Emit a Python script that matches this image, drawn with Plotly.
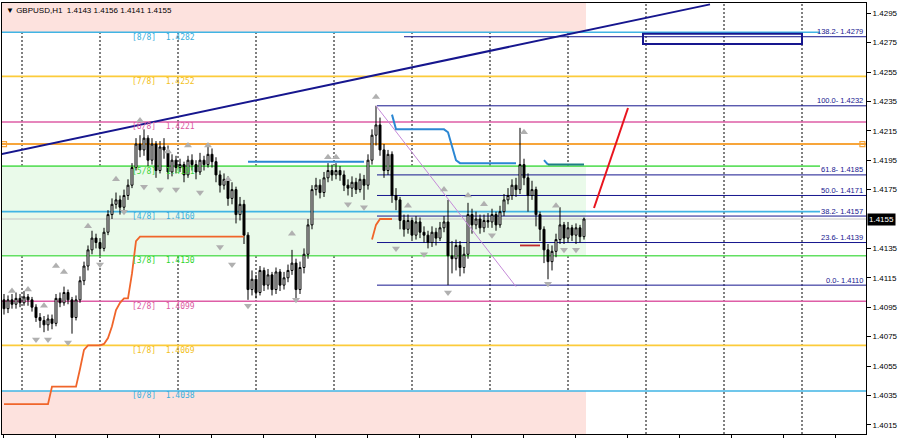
import plotly.graph_objects as go

# ---------------- data ----------------
opens = [1.4100, 1.4094, 1.4100, 1.4097, 1.4101, 1.4098, 1.4102, 1.4100, 1.4095, 1.4088,
         1.4086, 1.4083, 1.4087, 1.4084, 1.4101, 1.4098, 1.4105, 1.4100, 1.4088, 1.4100,
         1.4113, 1.4123, 1.4134, 1.4142, 1.4139, 1.4135, 1.4146, 1.4158, 1.4165, 1.4168,
         1.4163, 1.4171, 1.4178, 1.4190, 1.4206, 1.4202, 1.4210, 1.4195, 1.4206, 1.4188,
         1.4204, 1.4202, 1.4187, 1.4195, 1.4190, 1.4192, 1.4185, 1.4195, 1.4192, 1.4187,
         1.4195, 1.4192, 1.4199, 1.4194, 1.4185, 1.4178, 1.4182, 1.4169, 1.4175, 1.4158,
         1.4165, 1.4144, 1.4107, 1.4114, 1.4105, 1.4120, 1.4110, 1.4117, 1.4107, 1.4119,
         1.4110, 1.4115, 1.4120, 1.4125, 1.4107, 1.4122, 1.4131, 1.4151, 1.4175, 1.4178,
         1.4173, 1.4183, 1.4188, 1.4185, 1.4188, 1.4185, 1.4178, 1.4176, 1.4180, 1.4175,
         1.4182, 1.4178, 1.4195, 1.4212, 1.4219, 1.4202, 1.4188, 1.4199, 1.4171, 1.4168,
         1.4154, 1.4148, 1.4154, 1.4144, 1.4153, 1.4146, 1.4144, 1.4139, 1.4146, 1.4142,
         1.4149, 1.4153, 1.4130, 1.4128, 1.4137, 1.4122, 1.4131, 1.4158, 1.4151, 1.4155,
         1.4149, 1.4154, 1.4153, 1.4158, 1.4151, 1.4160, 1.4168, 1.4171, 1.4178, 1.4175,
         1.4192, 1.4183, 1.4171, 1.4175, 1.4158, 1.4148, 1.4134, 1.4126, 1.4133, 1.4141,
         1.4151, 1.4142, 1.4149, 1.4144, 1.4149, 1.4143]
highs = [1.4104, 1.4103, 1.4104, 1.4105, 1.4104, 1.4106, 1.4104, 1.4102, 1.4097, 1.4091,
         1.4089, 1.4090, 1.4090, 1.4104, 1.4105, 1.4109, 1.4107, 1.4102, 1.4103, 1.4116,
         1.4126, 1.4137, 1.4147, 1.4145, 1.4142, 1.4149, 1.4161, 1.4169, 1.4173, 1.4171,
         1.4175, 1.4182, 1.4193, 1.4210, 1.4212, 1.4216, 1.4212, 1.4210, 1.4208, 1.4208,
         1.4210, 1.4205, 1.4199, 1.4198, 1.4196, 1.4194, 1.4198, 1.4199, 1.4195, 1.4200,
         1.4198, 1.4204, 1.4203, 1.4197, 1.4188, 1.4186, 1.4184, 1.4180, 1.4177, 1.4170,
         1.4168, 1.4146, 1.4120, 1.4117, 1.4123, 1.4122, 1.4121, 1.4119, 1.4122, 1.4121,
         1.4119, 1.4124, 1.4134, 1.4128, 1.4126, 1.4135, 1.4155, 1.4178, 1.4183, 1.4182,
         1.4187, 1.4193, 1.4192, 1.4193, 1.4191, 1.4188, 1.4182, 1.4184, 1.4183, 1.4186,
         1.4185, 1.4199, 1.4216, 1.4232, 1.4224, 1.4206, 1.4202, 1.4201, 1.4176, 1.4170,
         1.4158, 1.4158, 1.4156, 1.4157, 1.4156, 1.4150, 1.4147, 1.4150, 1.4149, 1.4153,
         1.4157, 1.4168, 1.4140, 1.4141, 1.4140, 1.4136, 1.4166, 1.4162, 1.4160, 1.4158,
         1.4158, 1.4159, 1.4162, 1.4160, 1.4164, 1.4172, 1.4176, 1.4182, 1.4183, 1.4217,
         1.4196, 1.4186, 1.4181, 1.4177, 1.4160, 1.4150, 1.4138, 1.4137, 1.4145, 1.4163,
         1.4153, 1.4153, 1.4151, 1.4152, 1.4151, 1.4156]
lows = [1.4090, 1.4091, 1.4094, 1.4094, 1.4095, 1.4096, 1.4096, 1.4092, 1.4085, 1.4081,
        1.4078, 1.4079, 1.4080, 1.4082, 1.4095, 1.4096, 1.4097, 1.4077, 1.4086, 1.4098,
        1.4110, 1.4120, 1.4131, 1.4135, 1.4130, 1.4133, 1.4144, 1.4155, 1.4162, 1.4158,
        1.4160, 1.4168, 1.4176, 1.4188, 1.4197, 1.4198, 1.4191, 1.4192, 1.4183, 1.4186,
        1.4196, 1.4182, 1.4184, 1.4186, 1.4187, 1.4180, 1.4183, 1.4188, 1.4182, 1.4185,
        1.4188, 1.4190, 1.4190, 1.4180, 1.4173, 1.4175, 1.4164, 1.4165, 1.4152, 1.4154,
        1.4138, 1.4100, 1.4103, 1.4101, 1.4103, 1.4106, 1.4107, 1.4103, 1.4104, 1.4106,
        1.4107, 1.4112, 1.4117, 1.4101, 1.4104, 1.4118, 1.4128, 1.4148, 1.4171, 1.4169,
        1.4170, 1.4180, 1.4181, 1.4182, 1.4181, 1.4174, 1.4171, 1.4170, 1.4172, 1.4173,
        1.4168, 1.4175, 1.4192, 1.4205, 1.4198, 1.4183, 1.4185, 1.4166, 1.4161, 1.4148,
        1.4143, 1.4145, 1.4140, 1.4141, 1.4142, 1.4139, 1.4135, 1.4136, 1.4137, 1.4140,
        1.4146, 1.4110, 1.4118, 1.4120, 1.4116, 1.4118, 1.4128, 1.4145, 1.4148, 1.4145,
        1.4146, 1.4149, 1.4149, 1.4147, 1.4149, 1.4157, 1.4165, 1.4168, 1.4170, 1.4172,
        1.4178, 1.4160, 1.4168, 1.4150, 1.4140, 1.4125, 1.4114, 1.4120, 1.4129, 1.4138,
        1.4138, 1.4139, 1.4140, 1.4138, 1.4139, 1.4141]
closes = [1.4094, 1.4100, 1.4097, 1.4101, 1.4098, 1.4102, 1.4100, 1.4095, 1.4088, 1.4086,
          1.4083, 1.4087, 1.4084, 1.4101, 1.4098, 1.4105, 1.4100, 1.4088, 1.4100, 1.4113,
          1.4123, 1.4134, 1.4142, 1.4139, 1.4135, 1.4146, 1.4158, 1.4165, 1.4168, 1.4163,
          1.4171, 1.4178, 1.4190, 1.4206, 1.4202, 1.4210, 1.4195, 1.4206, 1.4188, 1.4204,
          1.4202, 1.4187, 1.4195, 1.4190, 1.4192, 1.4185, 1.4195, 1.4192, 1.4187, 1.4195,
          1.4192, 1.4199, 1.4194, 1.4185, 1.4178, 1.4182, 1.4169, 1.4175, 1.4158, 1.4165,
          1.4144, 1.4107, 1.4114, 1.4105, 1.4120, 1.4110, 1.4117, 1.4107, 1.4119, 1.4110,
          1.4115, 1.4120, 1.4125, 1.4107, 1.4122, 1.4131, 1.4151, 1.4175, 1.4178, 1.4173,
          1.4183, 1.4188, 1.4185, 1.4188, 1.4185, 1.4178, 1.4176, 1.4180, 1.4175, 1.4182,
          1.4178, 1.4195, 1.4212, 1.4219, 1.4202, 1.4188, 1.4199, 1.4171, 1.4168, 1.4154,
          1.4148, 1.4154, 1.4144, 1.4153, 1.4146, 1.4144, 1.4139, 1.4146, 1.4142, 1.4149,
          1.4153, 1.4130, 1.4128, 1.4137, 1.4122, 1.4131, 1.4158, 1.4151, 1.4155, 1.4149,
          1.4154, 1.4153, 1.4158, 1.4151, 1.4160, 1.4168, 1.4171, 1.4178, 1.4175, 1.4192,
          1.4183, 1.4171, 1.4175, 1.4158, 1.4148, 1.4134, 1.4126, 1.4133, 1.4141, 1.4151,
          1.4142, 1.4149, 1.4144, 1.4149, 1.4143, 1.4155]

# Murrey math levels
murrey_labels = ["[0/8]", "[1/8]", "[2/8]", "[3/8]", "[4/8]", "[5/8]", "[6/8]", "[7/8]", "[8/8]"]
murrey_prices = [1.4038, 1.4069, 1.4099, 1.4130, 1.4160, 1.4191, 1.4221, 1.4252, 1.4282]
pivot_price = 1.4206
last_price = 1.4155

# Fibonacci retracement
fib_levels = [0.0, 23.6, 38.2, 50.0, 61.8, 100.0, 138.2]
fib_prices = [1.4110, 1.4139, 1.4157, 1.4171, 1.4185, 1.4232, 1.4279]

# trailing-stop style indicator (orange), per bar
trail1_bars = list(range(0, 61))
trail1_vals = [1.4029, 1.4029, 1.4029, 1.4029, 1.4029, 1.4029, 1.4029, 1.4029, 1.4029, 1.4029,
               1.4029, 1.4029, 1.4041, 1.4041, 1.4041, 1.4041, 1.4041, 1.4041, 1.4041, 1.4053,
               1.4066, 1.4069, 1.4069, 1.4069, 1.4069, 1.4070, 1.4074, 1.4082, 1.4093, 1.4098,
               1.4101, 1.4101, 1.4118, 1.4140, 1.4143, 1.4143, 1.4143, 1.4143, 1.4143, 1.4143,
               1.4143, 1.4143, 1.4143, 1.4143, 1.4143, 1.4143, 1.4143, 1.4143, 1.4143, 1.4143,
               1.4143, 1.4143, 1.4143, 1.4143, 1.4143, 1.4143, 1.4143, 1.4143, 1.4143, 1.4143,
               1.4143]
trail2_bars = [92, 93, 94, 95, 96, 97]
trail2_vals = [1.4141, 1.4151, 1.4155, 1.4155, 1.4155, 1.4155]
trail3_bars = [129, 130, 131, 132, 133, 134]
trail3_vals = [1.4137, 1.4137, 1.4137, 1.4137, 1.4137, 1.4137]

# blue indicator line, per bar
blue1_bars = list(range(61, 91))
blue1_vals = [1.4194, 1.4194, 1.4194, 1.4194, 1.4194, 1.4194, 1.4194, 1.4194, 1.4194, 1.4194,
              1.4194, 1.4194, 1.4194, 1.4194, 1.4194, 1.4194, 1.4194, 1.4194, 1.4194, 1.4194,
              1.4194, 1.4194, 1.4194, 1.4194, 1.4194, 1.4194, 1.4194, 1.4194, 1.4194, 1.4194]
blue2_bars = list(range(97, 129))
blue2_vals = [1.4226, 1.4216, 1.4216, 1.4216, 1.4216, 1.4216, 1.4216, 1.4216, 1.4216, 1.4216,
              1.4216, 1.4216, 1.4216, 1.4216, 1.4214, 1.4205, 1.4195, 1.4193, 1.4193, 1.4193,
              1.4193, 1.4193, 1.4193, 1.4193, 1.4193, 1.4193, 1.4193, 1.4193, 1.4193, 1.4193,
              1.4193, 1.4193]
blue3_bars = [135, 136]
blue3_vals = [1.4195, 1.4192]
teal_bars = [136, 137, 138, 139, 140, 141, 142, 143, 144, 145]
teal_vals = [1.4192, 1.4192, 1.4192, 1.4192, 1.4192, 1.4192, 1.4192, 1.4192, 1.4192, 1.4192]

# fractals
frac_up_bars = [2, 6, 10, 13, 15, 21, 28, 34, 41, 46, 51, 56, 72, 81, 83, 93, 101, 110, 116, 120, 130, 138]
frac_up_prices = [1.4106, 1.4107, 1.4096, 1.4123, 1.4119, 1.4150, 1.4182, 1.4222, 1.4201, 1.4205, 1.4205,
                  1.4182, 1.4145, 1.4197, 1.4197, 1.4238, 1.4164, 1.4175, 1.4171, 1.4165, 1.4214, 1.4164]
frac_dn_bars = [8, 11, 16, 24, 30, 35, 39, 43, 49, 54, 57, 61, 73, 86, 90, 98, 105, 111, 122, 136, 140, 143]
frac_dn_prices = [1.4073, 1.4073, 1.4071, 1.4124, 1.4160, 1.4177, 1.4175, 1.4175, 1.4173, 1.4136, 1.4124,
                  1.4096, 1.4100, 1.4165, 1.4163, 1.4135, 1.4131, 1.4105, 1.4144, 1.4111, 1.4134, 1.4134]

# hand-drawn objects (bar index, price)
trend_bars = [-1.0, 176.5]
trend_prices = [1.4199, 1.4301]
red_bars = [147.5, 156.0]
red_prices = [1.41625, 1.42305]
purple_bars = [93.0, 128.0]
purple_prices = [1.4232, 1.4109]
box_bars = [159.75, 199.5]
box_prices = [1.4274, 1.4281]

title_text = "▼ GBPUSD,H1  1.4143 1.4156 1.4141 1.4155"

# ---------------- styling / layout ----------------
X_L, X_R = -0.5, 215.5
Y_BOT, Y_TOP = 1.400874, 1.430194
ZONE_END = 145.5
LINE_END_SHORT = 204.0

CYAN = "#41b4e4"
GOLD = "#fccb3a"
MAG = "#de5ea6"
ORANGE = "#f7a53a"
GREEN = "#62e062"
NAVY = "#16168e"
murrey_colors = [CYAN, GOLD, MAG, GREEN, CYAN, GREEN, MAG, GOLD, CYAN]
murrey_text_colors = ["#3aaedc", "#f2c020", "#dc5aa2", "#2ed42e", "#3aaedc", "#3cd43c", "#dc5aa2", "#f2c020", "#3aaedc"]

fig = go.Figure()

shapes = []
# background zones
shapes.append(dict(type="rect", xref="x", yref="y", x0=X_L, x1=ZONE_END, y0=murrey_prices[8], y1=Y_TOP,
                   fillcolor="#fde2de", line=dict(width=0), layer="below"))
shapes.append(dict(type="rect", xref="x", yref="y", x0=X_L, x1=ZONE_END, y0=Y_BOT, y1=murrey_prices[0],
                   fillcolor="#fde2de", line=dict(width=0), layer="below"))
shapes.append(dict(type="rect", xref="x", yref="y", x0=X_L, x1=ZONE_END, y0=murrey_prices[3], y1=murrey_prices[5],
                   fillcolor="#eafaea", line=dict(width=0), layer="below"))
# vertical dotted grid
for k in range(11):
    gx = 4.5 + 19.5 * k
    shapes.append(dict(type="line", xref="x", yref="paper", x0=gx, x1=gx, y0=0, y1=1,
                       line=dict(color="black", width=1, dash="2px,2px"), layer="below"))
# murrey lines
for i, p in enumerate(murrey_prices):
    x1 = LINE_END_SHORT if i in (4, 5, 8) else X_R
    shapes.append(dict(type="line", xref="x", yref="y", x0=X_L, x1=x1, y0=p, y1=p,
                       line=dict(color=murrey_colors[i], width=1.6), layer="below"))
# pivot (orange) and current price (gray)
shapes.append(dict(type="line", xref="x", yref="y", x0=X_L, x1=X_R, y0=pivot_price, y1=pivot_price,
                   line=dict(color=ORANGE, width=2), layer="below"))
shapes.append(dict(type="line", xref="x", yref="y", x0=X_L, x1=X_R, y0=last_price, y1=last_price,
                   line=dict(color="#c4c4c4", width=1), layer="below"))
# fibonacci lines
for lvl, p in zip(fib_levels, fib_prices):
    x0 = 100.0 if lvl > 100 else 93.25
    shapes.append(dict(type="line", xref="x", yref="y", x0=x0, x1=X_R, y0=p, y1=p,
                       line=dict(color=NAVY, width=1), layer="below"))
# rectangle object
shapes.append(dict(type="rect", xref="x", yref="y", x0=box_bars[0], x1=box_bars[1], y0=box_prices[0], y1=box_prices[1],
                   fillcolor="rgba(0,0,0,0)", line=dict(color=NAVY, width=2), layer="above"))

# candles
fig.add_trace(go.Candlestick(
    x=list(range(len(closes))), open=opens, high=highs, low=lows, close=closes,
    increasing=dict(line=dict(color="black", width=1), fillcolor="white"),
    decreasing=dict(line=dict(color="black", width=1), fillcolor="black"),
    whiskerwidth=0, showlegend=False, hoverinfo="skip"))

def line(xs, ys, color, width):
    fig.add_trace(go.Scatter(x=xs, y=ys, mode="lines", line=dict(color=color, width=width),
                             showlegend=False, hoverinfo="skip"))

line(trail1_bars, trail1_vals, "#f0652a", 1.8)
line(trail2_bars, trail2_vals, "#f0652a", 1.8)
line(trail3_bars, trail3_vals, "#c0282a", 1.8)
line(blue1_bars, blue1_vals, "#2b87d3", 2)
line(blue2_bars, blue2_vals, "#2b87d3", 2)
line(blue3_bars, blue3_vals, "#2b87d3", 2)
line(teal_bars, teal_vals, "#1e7f86", 2)
line(trend_bars, trend_prices, NAVY, 2)
line(red_bars, red_prices, "#e8141e", 2)
line(purple_bars, purple_prices, "#c58ad8", 1)

# orange square end markers
fig.add_trace(go.Scatter(x=[0, 214.6], y=[pivot_price, pivot_price], mode="markers",
                         marker=dict(symbol="square-open", size=5, color=ORANGE, line=dict(width=1.2)),
                         showlegend=False, hoverinfo="skip"))
# fractals
fig.add_trace(go.Scatter(x=frac_up_bars, y=frac_up_prices, mode="markers",
                         marker=dict(symbol="triangle-up", size=7, color="#b0b0b0"),
                         showlegend=False, hoverinfo="skip"))
fig.add_trace(go.Scatter(x=frac_dn_bars, y=frac_dn_prices, mode="markers",
                         marker=dict(symbol="triangle-down", size=7, color="#b0b0b0"),
                         showlegend=False, hoverinfo="skip"))

annotations = []
for i, p in enumerate(murrey_prices):
    annotations.append(dict(x=31.5, y=p, xref="x", yref="y", xanchor="left", yanchor="middle", yshift=-5,
                            text=f"{murrey_labels[i]}\u00a0\u00a0{p:.4f}", showarrow=False,
                            font=dict(family="DejaVu Sans Mono", size=8, color=murrey_text_colors[i])))
for lvl, p in zip(fib_levels, fib_prices):
    annotations.append(dict(x=1, y=p, xref="paper", yref="y", xanchor="right", yanchor="middle",
                            xshift=-1, yshift=5, text=f"{lvl:.1f}- {p:.4f}", showarrow=False,
                            font=dict(family="Liberation Sans", size=7.5, color=NAVY)))
annotations.append(dict(x=0, y=1, xref="paper", yref="paper", xanchor="left", yanchor="top",
                        xshift=2, yshift=-1, text=title_text, showarrow=False,
                        font=dict(family="Liberation Sans", size=8, color="black")))
annotations.append(dict(x=1, y=last_price, xref="paper", yref="y", xanchor="left", yanchor="middle",
                        xshift=1, text=f"{last_price:.4f}", showarrow=False, bgcolor="black", borderpad=1,
                        font=dict(family="Liberation Sans", size=8, color="white")))

ytick_vals = [1.4015, 1.4035, 1.4055, 1.4075, 1.4095, 1.4115, 1.4135, 1.4155, 1.4175,
              1.4195, 1.4215, 1.4235, 1.4255, 1.4275, 1.4295]
ytick_vals = [v for v in ytick_vals if v != 1.4155]

fig.update_layout(
    width=900, height=438,
    margin=dict(l=2, r=34, t=3, b=4),
    paper_bgcolor="white", plot_bgcolor="white",
    shapes=shapes, annotations=annotations,
    xaxis=dict(range=[X_L, X_R], showgrid=False, zeroline=False, showline=True, mirror=True,
               linecolor="black", linewidth=1, ticks="outside", tick0=12.75, dtick=13, ticklen=5,
               tickcolor="black", showticklabels=False, rangeslider=dict(visible=False), fixedrange=True,
               automargin=False),
    yaxis=dict(range=[Y_BOT, Y_TOP], side="right", showgrid=False, zeroline=False, showline=True,
               mirror=True, linecolor="black", linewidth=1, ticks="outside", ticklen=4, tickcolor="black",
               tickvals=ytick_vals, ticktext=[f"{v:.4f}" for v in ytick_vals],
               tickfont=dict(family="Liberation Sans", size=8, color="black"), fixedrange=True,
               automargin=False),
    showlegend=False,
)

fig.write_html("out.html", config={"displayModeBar": False},
               post_script="document.body.style.margin='0';document.body.style.overflow='hidden';")
